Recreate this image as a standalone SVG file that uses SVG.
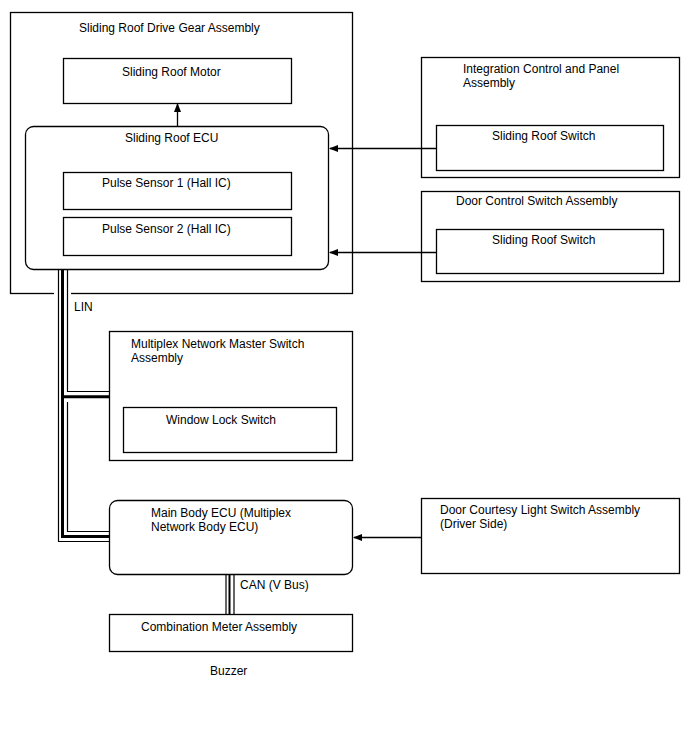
<svg xmlns="http://www.w3.org/2000/svg" width="688" height="755" viewBox="0 0 688 755">
<style>
.box{fill:#fff;stroke:#000;stroke-width:1.3}
.t{font-family:"Liberation Sans",Arial,sans-serif;font-size:12px;fill:#000}
.ln{fill:none;stroke:#000;stroke-width:1.3}
.thin{fill:none;stroke:#000;stroke-width:1.2}
.thick{fill:none;stroke:#000;stroke-width:3}
</style>
<defs>
<marker id="ah" markerUnits="userSpaceOnUse" markerWidth="9" markerHeight="7" refX="8" refY="3.5" orient="auto">
<path d="M0,0 L9,3.5 L0,7 z" fill="#000"/>
</marker>
</defs>
<rect width="688" height="755" fill="#fff"/>
<g id="drive-gear-assembly">
<rect class="box" x="10.5" y="12.5" width="342" height="281"/>
<text class="t" x="79" y="32">Sliding Roof Drive Gear Assembly</text>
</g>
<g id="sliding-roof-motor">
<rect class="box" x="63.5" y="58.5" width="228" height="45"/>
<text class="t" x="122" y="76">Sliding Roof Motor</text>
</g>
<g id="sliding-roof-ecu">
<rect class="box" x="25.5" y="126.5" width="303" height="143" rx="8"/>
<text class="t" x="125" y="142">Sliding Roof ECU</text>
</g>
<g id="pulse-sensor-1">
<rect class="box" x="63.5" y="172.5" width="228" height="37"/>
<text class="t" x="102" y="187">Pulse Sensor 1 (Hall IC)</text>
</g>
<g id="pulse-sensor-2">
<rect class="box" x="63.5" y="217.5" width="228" height="38"/>
<text class="t" x="102" y="233">Pulse Sensor 2 (Hall IC)</text>
</g>
<g id="integration-control-panel">
<rect class="box" x="421.5" y="57.5" width="258" height="120"/>
<text class="t" x="463" y="73">Integration Control and Panel</text>
<text class="t" x="463" y="87">Assembly</text>
</g>
<g id="sliding-roof-switch-1">
<rect class="box" x="436.5" y="125.5" width="227" height="45"/>
<text class="t" x="492" y="140">Sliding Roof Switch</text>
</g>
<g id="door-control-switch">
<rect class="box" x="421.5" y="191.5" width="258" height="90"/>
<text class="t" x="456" y="205">Door Control Switch Assembly</text>
</g>
<g id="sliding-roof-switch-2">
<rect class="box" x="436.5" y="229.5" width="227" height="44"/>
<text class="t" x="492" y="244">Sliding Roof Switch</text>
</g>
<g id="multiplex-master-switch">
<rect class="box" x="109.5" y="331.5" width="243" height="129"/>
<text class="t" x="131" y="348">Multiplex Network Master Switch</text>
<text class="t" x="131" y="362">Assembly</text>
</g>
<g id="window-lock-switch">
<rect class="box" x="123.5" y="407.5" width="213" height="45"/>
<text class="t" x="166" y="424">Window Lock Switch</text>
</g>
<g id="main-body-ecu">
<rect class="box" x="109.5" y="500.5" width="243" height="74" rx="8"/>
<text class="t" x="151" y="517">Main Body ECU (Multiplex</text>
<text class="t" x="151" y="531">Network Body ECU)</text>
</g>
<g id="door-courtesy-light-switch">
<rect class="box" x="421.5" y="498.5" width="258" height="75"/>
<text class="t" x="440" y="514">Door Courtesy Light Switch Assembly</text>
<text class="t" x="440" y="528">(Driver Side)</text>
</g>
<g id="combination-meter">
<rect class="box" x="109.5" y="614.5" width="243" height="37"/>
<text class="t" x="141" y="631">Combination Meter Assembly</text>
</g>
<g id="buzzer">
<text class="t" x="210" y="675">Buzzer</text>
</g>
<g id="connectors">
<line class="ln" x1="177.5" y1="126" x2="177.5" y2="104" marker-end="url(#ah)"/>
<line class="ln" x1="436" y1="148.5" x2="330" y2="148.5" marker-end="url(#ah)"/>
<line class="ln" x1="436" y1="252.5" x2="330" y2="252.5" marker-end="url(#ah)"/>
<line class="ln" x1="421" y1="537.5" x2="354" y2="537.5" marker-end="url(#ah)"/>
<rect x="54" y="290" width="17" height="7" fill="#fff"/>
<polyline class="thin" points="58.5,270 58.5,541.5 109,541.5"/>
<polyline class="thick" points="62.5,270 62.5,536.5 109,536.5"/>
<polyline class="thin" points="67.5,270 67.5,391.5 109,391.5"/>
<polyline class="thin" points="67.5,402 67.5,531.5 109,531.5"/>
<line class="thick" x1="62.5" y1="396.8" x2="109" y2="396.8"/>
<line class="thin" x1="226" y1="575" x2="226" y2="614"/>
<line class="ln" x1="229.5" y1="575" x2="229.5" y2="614" style="stroke-width:2"/>
<line class="thin" x1="234" y1="575" x2="234" y2="614"/>
</g>
<text class="t" x="74" y="311">LIN</text>
<text class="t" x="240" y="589">CAN (V Bus)</text>
</svg>
